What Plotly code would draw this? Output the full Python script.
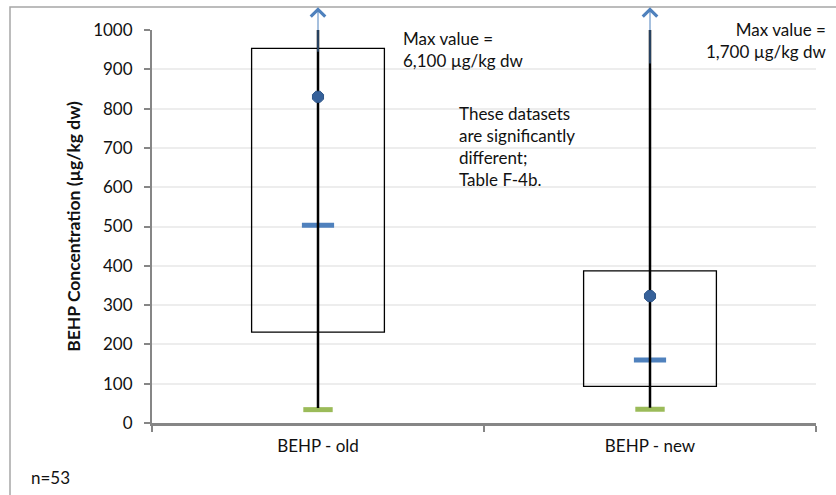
import plotly.graph_objects as go

categories = ["BEHP - old", "BEHP - new"]
q1 = [231, 93]
q3 = [953, 387]
means = [830, 323]
medians = [503, 160]
mins = [34, 35]
maxs = [6100, 1700]
arrow_tail = [941, 911]
arrow_head = 1058
max_labels = ["Max value =<br>6,100 µg/kg dw", "Max value =<br>1,700 µg/kg dw"]
n_label = "n=53"
note = "These datasets<br>are significantly<br>different;<br>Table F-4b."

FONT = "Lato"
W, H = 836, 495
ML, MR, MT, MB = 152, 20, 30, 72
PW, PH = W - ML - MR, H - MT - MB

def px_x(p):
    return (p - ML) / PW

def px_y(p):
    return (H - MB - p) / PH

fig = go.Figure()

# boxes (q1 to q3)
fig.add_trace(go.Bar(
    x=categories, y=[b - a for a, b in zip(q1, q3)], base=q1, width=0.4,
    marker=dict(color="rgba(0,0,0,0)", line=dict(color="black", width=1.3)),
    showlegend=False, hoverinfo="skip"))

# min markers
fig.add_trace(go.Scatter(
    x=categories, y=mins, mode="markers",
    marker=dict(symbol="line-ew", size=21, line=dict(color="#9BBB59", width=5)),
    showlegend=False))

# median markers
fig.add_trace(go.Scatter(
    x=categories, y=medians, mode="markers",
    marker=dict(symbol="line-ew", size=23, line=dict(color="#4F81BD", width=5)),
    showlegend=False))

# whiskers min -> max (clipped at axis top)
for c, lo, hi in zip(categories, mins, maxs):
    fig.add_trace(go.Scatter(
        x=[c, c], y=[lo + 4, hi], mode="lines",
        line=dict(color="black", width=2.5), showlegend=False))

# mean markers
fig.add_trace(go.Scatter(
    x=categories, y=means, mode="markers",
    marker=dict(symbol="octagon", size=12, color="#36619A",
                line=dict(color="#2F5688", width=1)),
    showlegend=False))

annotations = []
for i, t in enumerate(arrow_tail):
    annotations.append(dict(
        x=i, y=arrow_head, xref="x", yref="y",
        ax=i, ay=t, axref="x", ayref="y",
        text="", showarrow=True, arrowhead=4, arrowsize=2.8,
        arrowwidth=1.0, arrowcolor="#4F81BD", standoff=0))

TF = dict(family=FONT, size=17, color="#111")
annotations.append(dict(
    x=px_x(401), y=px_y(49), xref="paper", yref="paper",
    text=max_labels[0], showarrow=False, xanchor="left", yanchor="middle",
    align="left", font=TF))
annotations.append(dict(
    x=px_x(829), y=px_y(41), xref="paper", yref="paper",
    text=max_labels[1], showarrow=False, xanchor="right", yanchor="middle",
    align="right", font=TF))
annotations.append(dict(
    x=px_x(457), y=px_y(146), xref="paper", yref="paper",
    text=note, showarrow=False, xanchor="left", yanchor="middle",
    align="left", font=TF))
annotations.append(dict(
    x=px_x(29), y=px_y(477), xref="paper", yref="paper",
    text=n_label, showarrow=False, xanchor="left", yanchor="middle",
    align="left", font=TF))

shapes = [dict(
    type="rect", xref="paper", yref="paper",
    x0=px_x(10), x1=px_x(W + 20), y0=px_y(H + 20), y1=px_y(7),
    line=dict(color="#A6A6A6", width=1.5), fillcolor="rgba(0,0,0,0)", layer="below")]

fig.update_layout(
    width=W, height=H,
    margin=dict(l=ML, r=MR, t=MT, b=MB),
    paper_bgcolor="white", plot_bgcolor="white",
    font=TF,
    annotations=annotations, shapes=shapes,
    xaxis=dict(
        type="category", range=[-0.5, 1.5], tickson="boundaries",
        ticks="outside", ticklen=6, tickwidth=2, tickcolor="#868686",
        showline=True, linecolor="#868686", linewidth=2.5,
        showgrid=False, zeroline=False, ticklabelstandoff=6,
        tickfont=TF),
    yaxis=dict(
        range=[0, 1000], dtick=100, tick0=0,
        ticks="outside", ticklen=6, tickwidth=2, tickcolor="#868686",
        showline=True, linecolor="#868686", linewidth=2,
        showgrid=True, gridcolor="#EDEDED", gridwidth=2, zeroline=False,
        ticklabelstandoff=8,
        tickfont=TF,
        title=dict(text="<b>BEHP Concentration (µg/kg dw)</b>", standoff=8,
                   font=dict(family=FONT, size=17.5, color="#111"))),
)

fig.write_html(
    "out.html",
    config={"displayModeBar": False},
    post_script="document.body.style.margin='0';document.body.style.overflow='hidden';")
